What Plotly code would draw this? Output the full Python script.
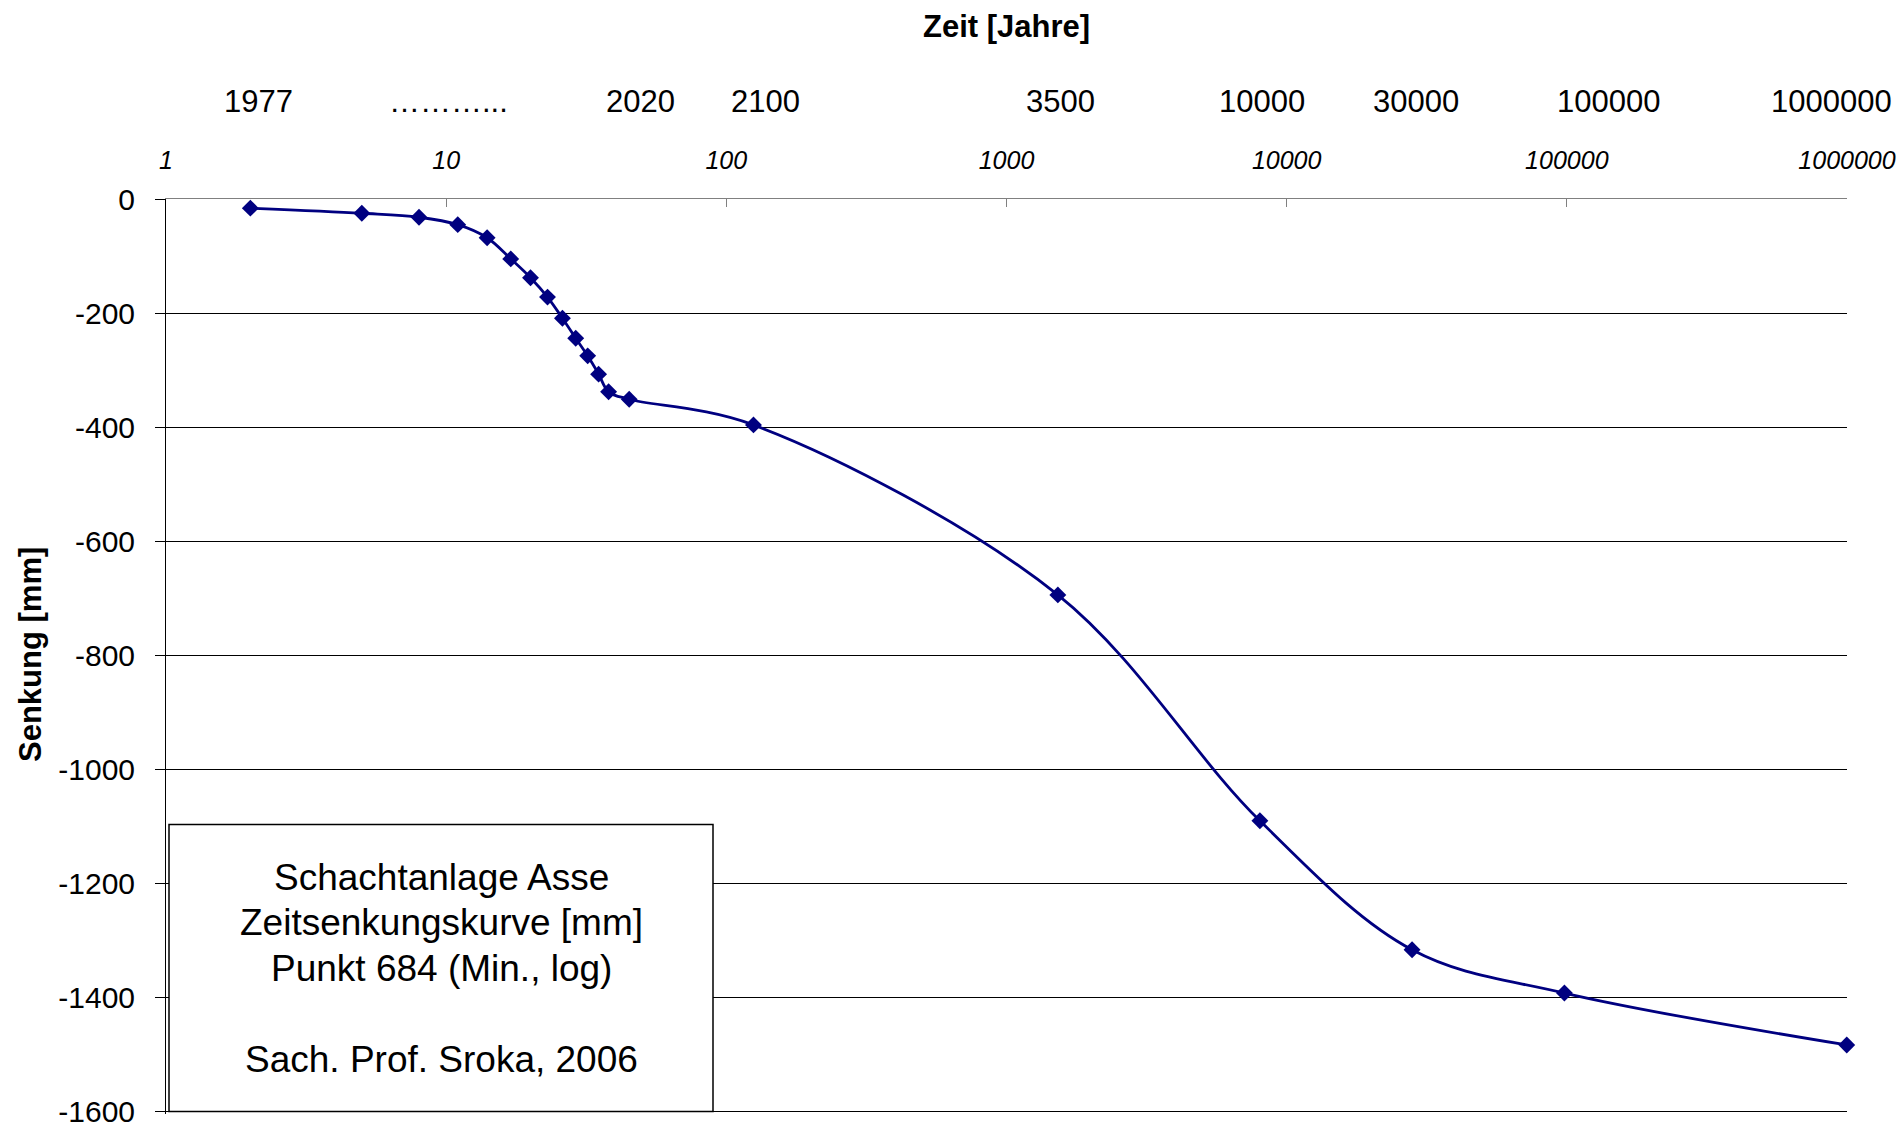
import math
import plotly.graph_objects as go

# Time after start of measurement (years since 1975) and subsidence [mm] at Punkt 684
zeit_jahre = [2, 5, 8, 11, 14, 17, 20, 23, 26, 29, 32, 35, 38, 45,
              125, 1525, 8025, 28025, 98025, 998025]
senkung_mm = [-16, -25, -32, -45, -68, -105, -138, -172, -209, -244, -275, -307, -338, -351,
              -396, -694, -1090, -1316, -1392, -1483]

# Axis ticks
x_tick_vals = [1, 10, 100, 1000, 10000, 100000, 1000000]
x_tick_text = ["1", "10", "100", "1000", "10000", "100000", "1000000"]
y_tick_vals = [0, -200, -400, -600, -800, -1000, -1200, -1400, -1600]
y_tick_text = ["0", "-200", "-400", "-600", "-800", "-1000", "-1200", "-1400", "-1600"]

# Calendar-year row above the time axis
jahr_labels = ["1977", "………...", "2020", "2100", "3500", "10000", "30000", "100000", "1000000"]
jahr_label_pos = [0.331, 1.010, 1.695, 2.141, 3.191, 3.912, 4.461, 5.150, 5.946]  # log10 units

box_lines = ["Schachtanlage Asse", "Zeitsenkungskurve [mm]", "Punkt 684 (Min., log)", "",
             "Sach. Prof. Sroka, 2006"]

FONT = "Arial, Liberation Sans, sans-serif"
NAVY = "#000080"

W, H = 1904, 1127
ML, MR, MT, MB = 166, 57, 199, 13
PW, PH = W - ML - MR, H - MT - MB


def px_to_paper_x(px):
    return (px - ML) / PW


def px_to_paper_y(py):
    return (H - MB - py) / PH


fig = go.Figure()
fig.add_trace(go.Scatter(
    x=zeit_jahre, y=senkung_mm,
    mode="lines+markers",
    line=dict(color=NAVY, width=2.8, shape="spline", smoothing=1),
    marker=dict(symbol="diamond", size=13, color=NAVY),
    cliponaxis=False,
    hoverinfo="x+y",
))

annotations = []
# Axis titles
annotations.append(dict(text="<b>Zeit [Jahre]</b>", xref="paper", yref="paper", x=0.5, y=1,
                        yshift=173, showarrow=False, font=dict(family=FONT, size=31, color="black"),
                        xanchor="center", yanchor="middle"))
annotations.append(dict(text="<b>Senkung [mm]</b>", xref="paper", yref="paper", x=0,
                        y=px_to_paper_y(655), xshift=-136, textangle=-90, showarrow=False,
                        font=dict(family=FONT, size=31, color="black"),
                        xanchor="center", yanchor="middle"))
# Year row
for lab, pos in zip(jahr_labels, jahr_label_pos):
    annotations.append(dict(text=lab, xref="x", yref="paper", x=pos, y=1, yshift=98,
                            showarrow=False, font=dict(family=FONT, size=31, color="black"),
                            xanchor="center", yanchor="middle"))

# Info box
box_x0, box_x1 = px_to_paper_x(169), px_to_paper_x(713)
box_y0, box_y1 = px_to_paper_y(1111.5), px_to_paper_y(824.5)
box_cx = (box_x0 + box_x1) / 2
box_cy_px = (824.5 + 1111.5) / 2
pitch = 45.5
for i, line in enumerate(box_lines):
    if not line:
        continue
    cy = box_cy_px + (i - (len(box_lines) - 1) / 2) * pitch
    annotations.append(dict(text=line, xref="paper", yref="paper", x=box_cx, y=px_to_paper_y(cy),
                            showarrow=False, font=dict(family=FONT, size=37, color="black"),
                            xanchor="center", yanchor="middle"))

fig.update_layout(
    width=W, height=H,
    margin=dict(l=ML, r=MR, t=MT, b=MB, pad=0, autoexpand=False),
    paper_bgcolor="white", plot_bgcolor="white",
    showlegend=False,
    annotations=annotations,
    shapes=[dict(type="rect", xref="paper", yref="paper", x0=box_x0, x1=box_x1, y0=box_y0, y1=box_y1,
                 line=dict(color="black", width=1.5), fillcolor="white", layer="above")],
    xaxis=dict(
        type="log", side="top", range=[0, 6], automargin=False,
        tickvals=x_tick_vals, ticktext=x_tick_text,
        ticks="inside", ticklen=8, tickcolor="#808080", tickwidth=1,
        showline=True, linecolor="#808080", linewidth=1,
        showgrid=False, zeroline=False,
        tickfont=dict(family=FONT, size=25, color="black", style="italic"),
        ticklabelstandoff=19, ticklabeloverflow="allow",
    ),
    yaxis=dict(
        range=[-1604, 0], automargin=False,
        tickvals=y_tick_vals, ticktext=y_tick_text,
        ticks="outside", ticklen=10, tickcolor="black", tickwidth=1,
        showline=True, linecolor="black", linewidth=1,
        showgrid=True, gridcolor="black", gridwidth=1, zeroline=False,
        tickfont=dict(family=FONT, size=30, color="black"),
        ticklabelstandoff=14, ticklabeloverflow="allow",
    ),
)

fig.write_html("out.html")
